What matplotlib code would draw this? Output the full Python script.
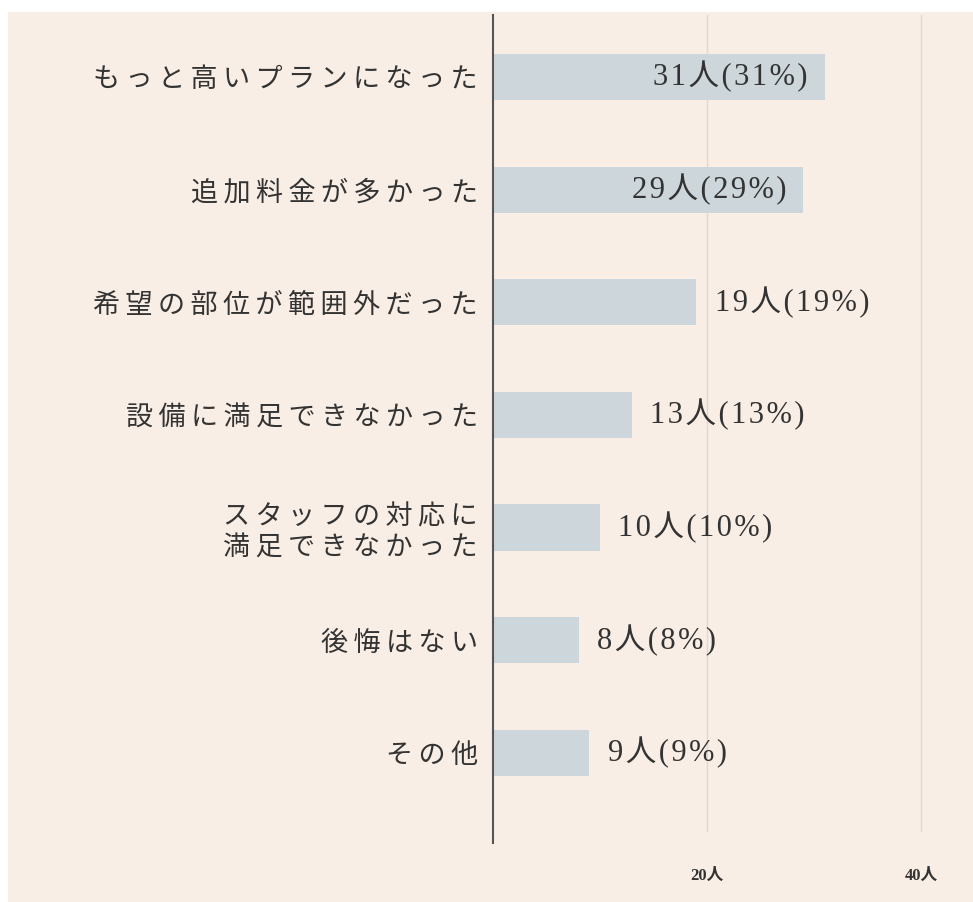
import matplotlib.pyplot as plt
from matplotlib.patches import Rectangle

plt.rcParams['font.family'] = ['Noto Sans CJK JP', 'DejaVu Sans']

categories = [
    "もっと高いプランになった",
    "追加料金が多かった",
    "希望の部位が範囲外だった",
    "設備に満足できなかった",
    "スタッフの対応に\n満足できなかった",
    "後悔はない",
    "その他",
]
counts = [31, 29, 19, 13, 10, 8, 9]
percents = [31, 29, 19, 13, 10, 8, 9]
tick_values = [20, 40]
tick_labels = ["20人", "40人"]

BG = "#f9eee5"
BAR = "#cdd6db"
TEXT = "#333333"
SERIF = ['Liberation Serif', 'Noto Sans CJK JP', 'DejaVu Sans']


def spaced(s, gap="\u2009"):
    # fake letter spacing
    return "\n".join(gap.join(line) for line in s.split("\n"))


fig = plt.figure(figsize=(9.73, 9.02), dpi=100)
fig.patch.set_facecolor("white")
fig.patches.append(Rectangle((8 / 973, 0), 1, 1 - 12 / 902, transform=fig.transFigure,
                             facecolor=BG, edgecolor="none", zorder=-10))

ax = fig.add_axes([493 / 973, 1 - 843 / 902, 471 / 973, 828 / 902])
ax.set_facecolor("none")

y = list(range(len(categories)))
ax.barh(y, counts, height=0.41, color=BAR, zorder=2)

for yi, c, p in zip(y, counts, percents):
    label = spaced(f"{c}人({p}%)", "\u200a")
    if c >= 25:
        ax.text(c - 1.6, yi, label, ha="right", va="center", fontsize=22,
                family=SERIF, color=TEXT, zorder=3)
    else:
        ax.text(c + 1.7, yi, label, ha="left", va="center", fontsize=22,
                family=SERIF, color=TEXT, zorder=3)

for v in tick_values:
    ax.axvline(v, ymin=0.015, ymax=1, color="#e2d8d0", lw=1, zorder=1)

ax.set_xlim(0, 44)
ax.set_ylim(6.8, -0.55)

ax.set_yticks(y)
ax.set_yticklabels([spaced(c) for c in categories], fontsize=19.5, color=TEXT, linespacing=1.2)
ax.set_xticks(tick_values)
ax.set_xticklabels(tick_labels, fontsize=12, fontweight="bold", family=SERIF, color=TEXT)
ax.tick_params(axis="y", length=0, pad=11)
ax.tick_params(axis="x", length=0, pad=18)

for s in ["top", "right", "bottom"]:
    ax.spines[s].set_visible(False)
ax.spines["left"].set_color("#555555")
ax.spines["left"].set_linewidth(1.5)

fig.savefig("out.png", dpi=100, facecolor=fig.get_facecolor())
